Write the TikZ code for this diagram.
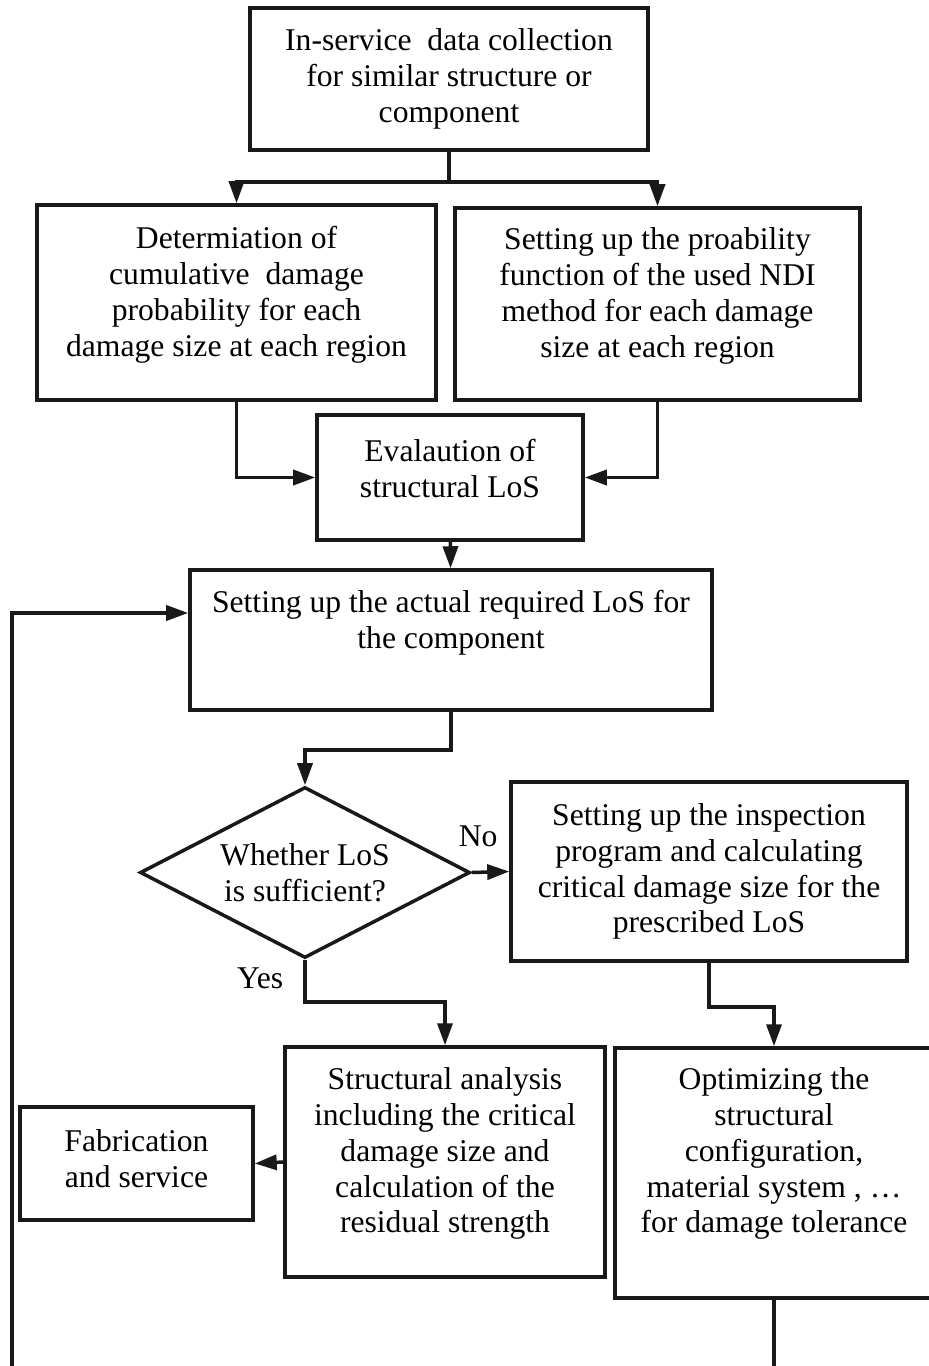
\documentclass[tikz,border=0pt]{standalone}
\usepackage{fontspec}
\setmainfont{Liberation Serif}
\usetikzlibrary{arrows.meta,shapes.geometric}

\begin{document}
\begin{tikzpicture}[
  x=0.2mm, y=-0.2mm,
  font=\fontsize{18}{20.4}\selectfont,
  % ---- boxes -------------------------------------------------------------
  box/.style={
    draw=black!90, line width=2pt, fill=white,
    align=center, inner sep=2pt},
  decision/.style={box, diamond, aspect=1.93, inner sep=0pt},
  lift/.style={text depth=#1},
  lbl/.style={inner sep=0pt},
  % ---- edges -------------------------------------------------------------
  wire/.style={draw=black!90, line width=2pt},
  flow/.style={wire, -{Triangle[length=0.44cm,width=0.3cm]}},
]

\useasboundingbox (0,0) rectangle (928,1366);

% ---- data and the two probability boxes ------------------------------------
\node[box, minimum width=7.96cm, minimum height=2.84cm] (collect) at (449,79)
  {In-service\ \ data collection\\for similar structure or\\component};

\node[box, minimum width=7.98cm, minimum height=3.9cm, lift=0.45cm] (cumul) at (236.5,302.5)
  {Determiation of\\cumulative\ \ damage\\probability for each\\damage size at each region};
\node[box, minimum width=8.1cm, minimum height=3.84cm, lift=0.45cm] (ndi) at (657.5,304)
  {Setting up the proability\\function of the used NDI\\method for each damage\\size at each region};

% ---- LoS ---------------------------------------------------------------------
\node[box, minimum width=5.32cm, minimum height=2.5cm, lift=0.38cm] (evalLoS) at (450,477.5)
  {Evalaution of\\structural LoS};
\node[box, minimum width=10.44cm, minimum height=2.8cm, lift=0.83cm] (reqLoS) at (451,640)
  {Setting up the actual required LoS for\\the component};

% ---- decision and its two branches ------------------------------------------
\node[decision, minimum width=6.6cm, minimum height=3.42cm] (decide) at (305,872.5)
  {Whether LoS\\is sufficient?};
\node[box, minimum width=7.92cm, minimum height=3.58cm] (inspect) at (709,871.5)
  {Setting up the inspection\\program and calculating\\critical damage size for the\\prescribed LoS};

\node[box, minimum width=6.4cm, minimum height=4.6cm, lift=0.47cm] (struct) at (445,1162)
  {Structural analysis\\including the critical\\damage size and\\calculation of the\\residual strength};
\node[box, minimum width=4.66cm, minimum height=2.26cm, lift=0.2cm] (fab) at (136.5,1163.5)
  {Fabrication\\and service};
\node[box, minimum width=6.36cm, minimum height=5cm, lift=0.91cm] (optim) at (774,1173)
  {Optimizing the\\structural\\configuration,\\material system , \dots\\for damage tolerance};

% loop ends run off the bottom edge
\coordinate (loopL) at (12,1370);
\coordinate (loopR) at (774,1370);

% ---- connectors ----------------------------------------------------------------
\draw[flow] (collect.south) -- ++(0,30) -| (cumul.north);
\draw[flow] (collect.south) -- ++(0,30) -| (ndi.north);
\draw[flow] (cumul.south) |- (evalLoS.west);
\draw[flow] (ndi.south) |- (evalLoS.east);
\draw[flow] (evalLoS) -- (reqLoS);
\draw[flow] (reqLoS.south) -- ++(0,38) -| (decide.north);

\draw[flow] (decide.east) -- node[lbl, pos=0.17, above=0.48cm] {No} (inspect.west);
\draw[flow] (decide.south) -- node[lbl, pos=0.45, left=0.4cm] {Yes} ++(0,42) -| (struct.north);
\draw[flow] (inspect.south) -- ++(0,44) -| (optim.north);
\draw[flow] (struct.west) -- (fab.east);

\draw[wire] (optim.south) -- (loopR);
\draw[flow] (loopL) |- ([yshift=0.54cm]reqLoS.west);

\end{tikzpicture}
\end{document}
